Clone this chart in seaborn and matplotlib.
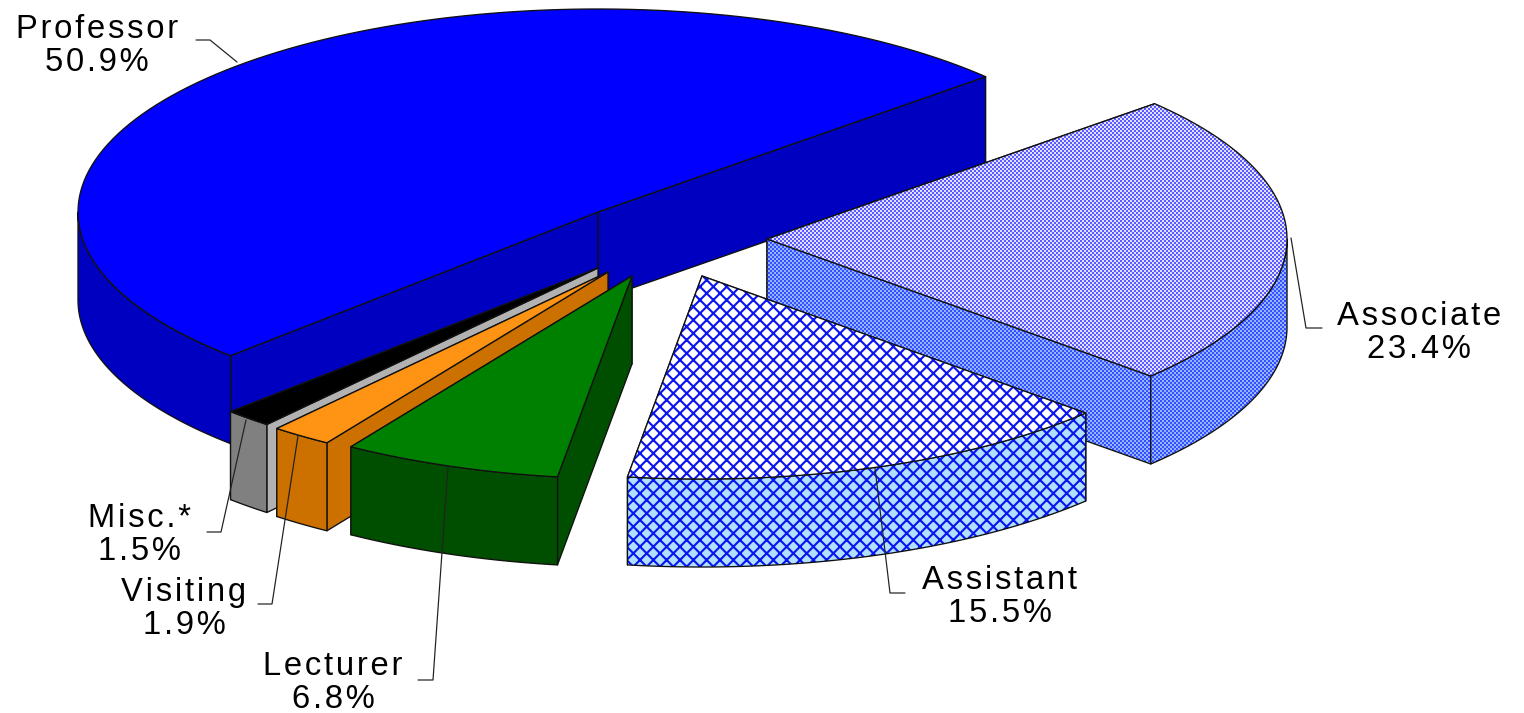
import numpy as np
import matplotlib
matplotlib.use('Agg')
import matplotlib.pyplot as plt
import seaborn as sns
from matplotlib.patches import Polygon

# slices in pie order, counter clockwise from the start angle
names = ['Professor', 'Misc.*', 'Visiting', 'Lecturer', 'Assistant', 'Associate']
shares = [50.9, 1.5, 1.9, 6.8, 15.5, 23.4]

top_colors = ['#0000FF', '#000000', '#FF9414', '#008000', 'white', 'dither_top']
side_colors = ['#0000C0', '#808080', '#CC7000', '#004F00', '#B0E0FF', 'dither_side']
cut_colors = ['#0000C0', '#B2B2B2', '#CC7000', '#004F00', '#B0E0FF', 'dither_side']

# layout, in image pixels
start_angle = 41.8
rx, ry, depth = 520, 203, 88
centers = {'Professor': (598, 212), 'Misc.*': (598, 268), 'Visiting': (608, 272),
           'Lecturer': (632, 276), 'Assistant': (702, 276), 'Associate': (767, 239)}
draw_order = ['Professor', 'Misc.*', 'Visiting', 'Lecturer', 'Associate', 'Assistant']
label_pos = {'Professor': (97, 46), 'Misc.*': (139, 535), 'Visiting': (184, 609),
             'Lecturer': (333, 683), 'Assistant': (1000, 597), 'Associate': (1419, 333)}
leaders = {'Professor': [(196, 40), (210, 40), (237, 62)],
           'Misc.*': [(246, 420), (221, 532), (207, 532)],
           'Visiting': [(298, 436), (272, 604), (258, 604)],
           'Lecturer': [(448, 467), (433, 680), (418, 680)],
           'Assistant': [(875, 468), (890, 593), (905, 593)],
           'Associate': [(1291, 238), (1306, 328), (1322, 328)]}

W, H = 1524, 713
sns.set_theme(style='white')
plt.rcParams['font.family'] = ['Liberation Sans', 'DejaVu Sans']
plt.rcParams['hatch.linewidth'] = 1.9

fig = plt.figure(figsize=(W / 80, H / 80), dpi=80)
ax = fig.add_axes([0, 0, 1, 1])
ax.set_xlim(0, W)
ax.set_ylim(H, 0)
ax.axis('off')


def checker(c1, c2):
    # 2 pixel checker board, the look of the old dithered fills
    yy, xx = np.indices((H, W))
    mask = ((xx // 2 + yy // 2) % 2 == 0)[..., None]
    return np.where(mask, np.array(c1), np.array(c2)).astype(np.uint8)


dithers = {'dither_top': checker((90, 90, 255), (225, 225, 255)),
           'dither_side': checker((50, 80, 255), (150, 180, 255))}
z = [1]


def add_face(pts, fill, hatched):
    z[0] += 1
    if fill in dithers:
        poly = Polygon(pts, closed=True, facecolor='none', edgecolor='none', zorder=z[0])
        ax.add_patch(poly)
        im = ax.imshow(dithers[fill], extent=(0, W, H, 0), interpolation='nearest',
                       aspect='auto', zorder=z[0])
        im.set_clip_path(poly)
    elif hatched:
        ax.add_patch(Polygon(pts, closed=True, facecolor=fill, edgecolor='#0A14F0',
                             hatch='xx', linewidth=0, zorder=z[0]))
    else:
        ax.add_patch(Polygon(pts, closed=True, facecolor=fill, edgecolor='none', zorder=z[0]))
    z[0] += 1
    ax.add_patch(Polygon(pts, closed=True, fill=False, edgecolor='#111111',
                         linewidth=1.2, joinstyle='round', zorder=z[0]))


def rim(cx, cy, a0, a1):
    t = np.radians(np.linspace(a0, a1, 120))
    return np.column_stack([cx + rx * np.cos(t), cy - ry * np.sin(t)])


def cut_face(cx, cy, a):
    t = np.radians(a)
    x, y = cx + rx * np.cos(t), cy - ry * np.sin(t)
    return [(cx, cy), (x, y), (x, y + depth), (cx, cy + depth)]


def spaced(s):
    return '\u200a'.join(s)


edges = start_angle + np.cumsum([0] + shares) * 3.6
spans = {n: (edges[i], edges[i + 1]) for i, n in enumerate(names)}

for name in draw_order:
    i = names.index(name)
    a0, a1 = spans[name]
    cx, cy = centers[name]
    hatched = name == 'Assistant'
    # the two cut faces first, back one before front one, rim and top hide the rest
    for a in sorted([a0, a1], key=lambda v: -np.sin(np.radians(v))):
        add_face(cut_face(cx, cy, a), cut_colors[i], hatched)
    lo, hi = max(a0, 180), min(a1, 360)
    if hi > lo:
        arc = rim(cx, cy, lo, hi)
        add_face(np.vstack([arc, (arc + [0, depth])[::-1]]), side_colors[i], hatched)
    add_face(np.vstack([[(cx, cy)], rim(cx, cy, a0, a1)]), top_colors[i], hatched)

for name, share in zip(names, shares):
    pts = np.array(leaders[name])
    ax.plot(pts[:, 0], pts[:, 1], color='#222222', lw=1.1, zorder=500)
    x, y = label_pos[name]
    ax.text(x, y, spaced(name) + '\n' + spaced(f'{share:.1f}%'), ha='center', va='center',
            fontsize=29.5, color='black', linespacing=1.1, zorder=501)

fig.savefig('out.png', dpi=80, facecolor='white')
